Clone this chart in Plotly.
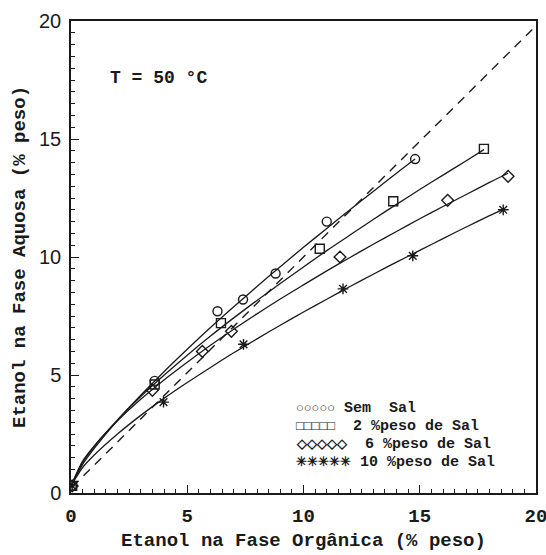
import plotly.graph_objects as go

# ---- data ----
sem_sal_x = [0.05, 3.6, 6.3, 7.4, 8.8, 11.0, 14.8]
sem_sal_y = [0.3, 4.75, 7.7, 8.2, 9.3, 11.5, 14.15]
sal2_x = [0.05, 3.6, 6.45, 10.7, 13.86, 17.76]
sal2_y = [0.3, 4.6, 7.2, 10.35, 12.36, 14.58]
sal6_x = [0.05, 3.5, 5.65, 6.9, 11.57, 16.2, 18.8]
sal6_y = [0.3, 4.35, 6.0, 6.85, 10.0, 12.4, 13.42]
sal10_x = [0.05, 3.98, 7.42, 11.7, 14.7, 18.59]
sal10_y = [0.3, 3.85, 6.3, 8.65, 10.05, 12.0]

# fitted curves as drawn in the picture
fit_sem_x = [0, 0.5, 1, 2, 3, 4, 5, 6, 7, 8, 9, 10, 11, 12, 13, 14, 14.8]
fit_sem_y = [0.3, 1.21, 1.89, 3.08, 4.14, 5.14, 6.09, 7.01, 7.89, 8.75, 9.59, 10.41, 11.21, 12.0, 12.78, 13.55, 14.15]
fit_2_x = [0, 0.5, 1, 2, 3, 4, 5, 6, 7, 8, 9, 10, 11, 12, 13, 14, 15, 16, 17, 17.76]
fit_2_y = [0.3, 1.30, 1.97, 3.10, 4.09, 4.99, 5.84, 6.65, 7.42, 8.16, 8.88, 9.58, 10.27, 10.93, 11.59, 12.23, 12.86, 13.47, 14.08, 14.55]
fit_6_x = [0, 0.5, 1, 2, 3, 4, 5, 6, 7, 8, 9, 10, 11, 12, 13, 14, 15, 16, 17, 18, 18.8]
fit_6_y = [0.3, 1.35, 2.0, 3.06, 3.97, 4.79, 5.54, 6.26, 6.94, 7.59, 8.22, 8.82, 9.41, 9.98, 10.54, 11.08, 11.62, 12.14, 12.65, 13.16, 13.55]
fit_10_x = [0, 0.5, 1, 2, 3, 4, 5, 6, 7, 8, 9, 10, 11, 12, 13, 14, 15, 16, 17, 18, 18.59]
fit_10_y = [0.3, 1.08, 1.61, 2.50, 3.29, 4.01, 4.68, 5.32, 5.94, 6.53, 7.11, 7.67, 8.21, 8.75, 9.27, 9.78, 10.28, 10.78, 11.27, 11.75, 12.02]

dashed_x = [0.05, 19.9]
dashed_y = [0.25, 19.7]

series_names = ["Sem Sal", "2 %peso de Sal", "6 %peso de Sal", "10 %peso de Sal"]
legend_glyphs = ["○○○○○", "□□□□□", "◇◇◇◇◇", "✳✳✳✳✳"]
legend_labels = ["Sem\u00a0\u00a0Sal", "\u00a02\u00a0%peso\u00a0de\u00a0Sal",
                 "\u00a06\u00a0%peso\u00a0de\u00a0Sal", "10\u00a0%peso\u00a0de\u00a0Sal"]

tick_vals = [0, 5, 10, 15, 20]
tick_text = ["0", "5", "10", "15", "20"]

LINE = "#1a1a1a"
MONO = "Liberation Mono"

fig = go.Figure()

fig.add_trace(go.Scatter(x=dashed_x, y=dashed_y, mode="lines",
                         line=dict(color=LINE, width=1.4, dash="9px,7px"),
                         showlegend=False, hoverinfo="skip"))

fits = [(fit_sem_x, fit_sem_y), (fit_2_x, fit_2_y), (fit_6_x, fit_6_y), (fit_10_x, fit_10_y)]
for (fx, fy) in fits:
    fig.add_trace(go.Scatter(x=fx, y=fy, mode="lines",
                             line=dict(color=LINE, width=1.3, shape="spline", smoothing=0.8),
                             showlegend=False, hoverinfo="skip"))

markers = [(sem_sal_x, sem_sal_y, "circle-open"), (sal2_x, sal2_y, "square-open"),
           (sal6_x, sal6_y, "diamond-open"), (sal10_x, sal10_y, "asterisk-open")]
for (mx, my, sym), name in zip(markers, series_names):
    fig.add_trace(go.Scatter(x=mx, y=my, mode="markers", name=name,
                             marker=dict(symbol=sym, size=9, color=LINE,
                                         line=dict(color=LINE, width=1.4)),
                             showlegend=False))

annotations = [dict(x=1.6, y=17.6, xref="x", yref="y", xanchor="left", yanchor="middle",
                    text="T = 50 °C", showarrow=False,
                    font=dict(family=MONO, size=18, color=LINE, weight="bold"))]
legend_rows_y = [3.56, 2.80, 2.04, 1.28]
for g, lab, ry in zip(legend_glyphs, legend_labels, legend_rows_y):
    annotations.append(dict(
        x=9.64, y=ry, xref="x", yref="y", xanchor="left", yanchor="middle",
        text='<span style="font-size:13px">' + g + '</span>\u00a0' + lab,
        showarrow=False, borderpad=0,
        font=dict(family=MONO, size=15, color=LINE, weight="bold")))

axis_common = dict(
    range=[0, 20], tickmode="array", tickvals=tick_vals, ticktext=tick_text,
    ticks="inside", ticklen=8, tickwidth=1.3, tickcolor=LINE,
    minor=dict(dtick=0.5, ticks="inside", ticklen=4, tickwidth=1, tickcolor=LINE),
    showgrid=False, zeroline=False, showline=True, linecolor=LINE, linewidth=1.5,
    mirror=True, automargin=False, ticklabeloverflow="allow",
)

fig.update_layout(
    width=546, height=555,
    margin=dict(l=71, r=10, t=21, b=62),
    paper_bgcolor="white", plot_bgcolor="white",
    annotations=annotations,
    xaxis=dict(**axis_common,
               tickfont=dict(family=MONO, size=19, color=LINE, weight="bold"),
               ticklabelstandoff=4,
               title=dict(text="Etanol na Fase Orgânica (% peso)", standoff=6,
                          font=dict(family=MONO, size=19, color=LINE, weight="bold"))),
    yaxis=dict(**axis_common,
               tickfont=dict(family="Liberation Sans", size=20, color=LINE),
               ticklabelstandoff=4,
               title=dict(text="Etanol na Fase Aquosa (% peso)", standoff=8,
                          font=dict(family=MONO, size=19, color=LINE, weight="bold"))),
)

fig.write_html("out.html")
